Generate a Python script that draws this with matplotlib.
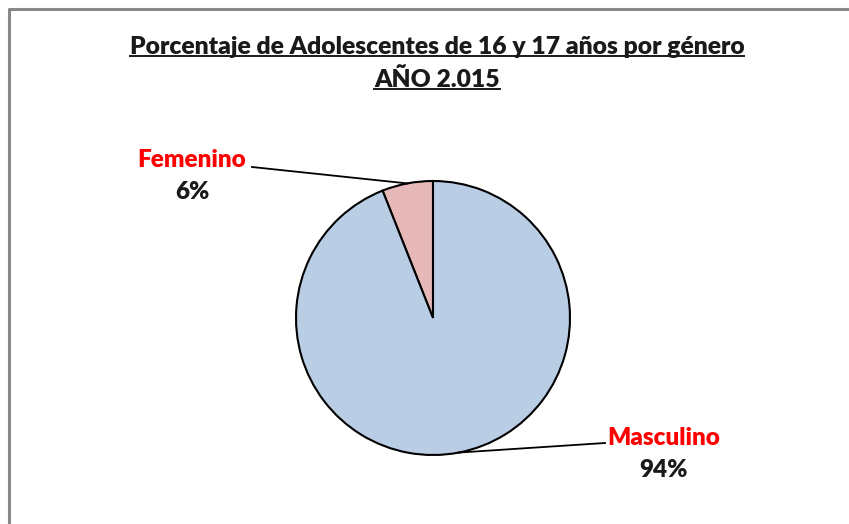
import numpy as np
import matplotlib.pyplot as plt

# datos
generos = ['Femenino', 'Masculino']
porcentajes = [6, 94]
colores = ['#E6B9B8', '#B9CDE5']

titulo_1 = 'Porcentaje de Adolescentes de 16 y 17 años por género'
titulo_2 = 'AÑO 2.015'

plt.rcParams['font.family'] = ['Lato', 'DejaVu Sans']

W, H = 849, 524
fig = plt.figure(figsize=(W / 100, H / 100), dpi=100)
ax = fig.add_axes([0, 0, 1, 1])
ax.set_xlim(0, W)
ax.set_ylim(0, H)
ax.set_aspect('equal')
ax.axis('off')

# marco gris del area del grafico
ax.plot([9, 9, W + 5], [-5, H - 9, H - 9], color='#888888', lw=2.2, solid_capstyle='butt')

cx, cy, r = 433, H - 318, 137
wedges, _ = ax.pie(porcentajes, colors=colores, startangle=90, counterclock=True,
                   center=(cx, cy), radius=r, frame=True,
                   wedgeprops=dict(edgecolor='black', linewidth=1.5))
ax.set_xlim(0, W)
ax.set_ylim(0, H)
ax.axis('off')

# etiquetas con lineas guia
pos_etiquetas = [(192, H - 160), (664, H - 438)]
inicio_linea = [(252, H - 167), (605, H - 443)]
for w, g, p, (tx, ty), (lx, ly) in zip(wedges, generos, porcentajes, pos_etiquetas, inicio_linea):
    ang = np.deg2rad((w.theta1 + w.theta2) / 2)
    ex, ey = cx + r * np.cos(ang), cy + r * np.sin(ang)
    ax.plot([lx, ex], [ly, ey], color='black', lw=1.3)
    ax.text(tx, ty, g, color='#FF0000', fontsize=17.5, fontweight='heavy', ha='center', va='center')
    ax.text(tx, ty - 32, f'{p}%', color='#1a1a1a', fontsize=17.5, fontweight='heavy', ha='center', va='center')

# titulo subrayado
t1 = ax.text(437, H - 47, titulo_1, fontsize=17.7, fontweight='heavy', ha='center', va='center', color='#1a1a1a')
t2 = ax.text(437, H - 80, titulo_2, fontsize=17.7, fontweight='heavy', ha='center', va='center', color='#1a1a1a')
fig.canvas.draw()
ren = fig.canvas.get_renderer()
inv = ax.transData.inverted()
for t in (t1, t2):
    bb = t.get_window_extent(renderer=ren)
    (x0, y0), (x1, y1) = inv.transform([(bb.x0, bb.y0), (bb.x1, bb.y1)])
    ax.plot([x0, x1], [y0 + 2, y0 + 2], color='#1a1a1a', lw=1.4)

fig.savefig('out.png', dpi=100, facecolor='white')
